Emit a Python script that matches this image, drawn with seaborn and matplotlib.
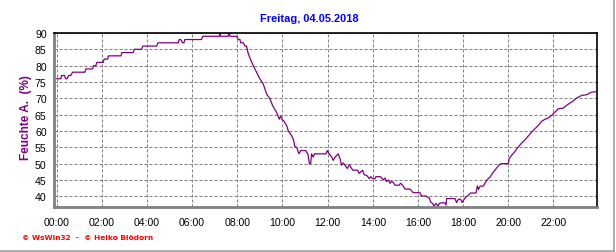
import matplotlib
matplotlib.use("Agg")
import matplotlib.pyplot as plt
import seaborn as sns
import pandas as pd
from matplotlib.ticker import MultipleLocator, FixedLocator
from matplotlib.lines import Line2D

# ---- data (hours of day, relative humidity %) ----
hours = [0.00, 0.19, 0.23, 0.35, 0.40, 0.47, 0.53, 0.63, 0.71, 1.25, 1.30, 1.59, 1.64, 1.74,
         1.78, 2.06, 2.11, 2.26, 2.30, 2.85, 2.89, 3.39, 3.44, 3.76, 3.82, 4.43, 4.49, 5.39,
         5.43, 5.50, 5.58, 5.64, 5.68, 6.42, 6.47, 7.20, 7.23, 7.25, 7.60, 7.64, 7.68, 7.97,
         8.04, 8.12, 8.15, 8.27, 8.34, 8.41, 8.49, 8.64, 8.78, 9.00, 9.15, 9.30, 9.45, 9.57,
         9.74, 9.86, 9.92, 9.99, 10.07, 10.19, 10.26, 10.41, 10.48, 10.55, 10.63, 10.73, 10.81,
         11.04, 11.14, 11.19, 11.25, 11.29, 11.36, 11.42, 11.51, 11.93, 11.98, 12.07, 12.18,
         12.25, 12.33, 12.47, 12.55, 12.62, 12.69, 12.77, 12.87, 12.96, 13.02, 13.11, 13.33,
         13.40, 13.55, 13.62, 13.73, 13.85, 13.92, 13.99, 14.10, 14.14, 14.35, 14.46, 14.54,
         14.61, 14.69, 14.76, 14.84, 14.91, 14.98, 15.17, 15.23, 15.32, 15.43, 15.65, 15.79,
         16.09, 16.16, 16.36, 16.41, 16.50, 16.56, 16.65, 16.71, 16.80, 16.90, 16.94, 17.05,
         17.19, 17.24, 17.27, 17.64, 17.71, 17.79, 17.89, 17.96, 18.04, 18.13, 18.23, 18.33,
         18.57, 18.63, 18.68, 18.75, 18.89, 19.04, 19.19, 19.34, 19.49, 19.60, 19.71, 20.00,
         20.04, 20.15, 20.30, 20.44, 20.59, 20.74, 20.89, 21.04, 21.18, 21.33, 21.48, 21.63,
         21.77, 21.92, 22.07, 22.21, 22.44, 22.59, 22.81, 23.03, 23.25, 23.47, 23.69, 23.87]
humidity = [76, 76, 77, 77, 76, 76, 77, 77, 78, 78, 79, 79, 80, 80,
            81, 81, 82, 82, 83, 83, 84, 84, 85, 85, 86, 86, 87, 87,
            88, 88, 87, 87, 88, 88, 89, 89, 90, 89, 89, 90, 89, 89,
            88, 88, 87, 87, 86, 86, 83.6, 81, 79, 76, 74.4, 71.3, 69.8, 67.7,
            65.7, 63.6, 64.5, 63.5, 63, 61.6, 60, 58.5, 57.5, 55.2, 55, 53, 54,
            54, 52.6, 50, 50, 53, 52, 53, 53, 53, 54, 53, 52,
            51, 52, 53, 51.5, 49.5, 50.2, 49.5, 48.5, 49.7, 49, 48, 48,
            47, 48, 46.6, 46.4, 45.4, 46, 45.4, 45.4, 46, 46, 45, 45.6,
            44.5, 45, 44, 44.6, 44.2, 43.4, 43.4, 44, 43.4, 42.2, 42.2, 41.1,
            41.1, 40.1, 40.1, 39.8, 39.5, 38.3, 37.8, 37.0, 37.8, 37.0, 37.8, 38,
            38, 37.3, 39.3, 39.3, 38.1, 39.1, 39.1, 38.1, 39, 39.8, 40.3, 41,
            41, 43.2, 42.1, 43.1, 43.1, 44.9, 45.9, 47.4, 48.7, 49.7, 50, 50,
            51.5, 52.6, 53.8, 55.1, 56.3, 57.3, 58.5, 59.7, 60.7, 61.7, 63, 63.6,
            64, 64.8, 65.8, 66.8, 67, 67.9, 68.9, 70.1, 70.9, 71.1, 71.9, 72]
x_ticks = [0, 2, 4, 6, 8, 10, 12, 14, 16, 18, 20, 22]
x_labels = ["00:00", "02:00", "04:00", "06:00", "08:00", "10:00",
            "12:00", "14:00", "16:00", "18:00", "20:00", "22:00"]
y_ticks = [40, 45, 50, 55, 60, 65, 70, 75, 80, 85, 90]
title = "Freitag, 04.05.2018"
ylabel = "Feuchte A.  (%)"
footer = "\u00a9 WsWin32  -  \u00a9 Heiko Blödorn"

df = pd.DataFrame({"h": hours, "v": humidity})

sns.set_style("white")
plt.rcParams["font.family"] = ["Liberation Sans", "DejaVu Sans"]

fig = plt.figure(figsize=(6.16, 2.53), dpi=100)
ax = fig.add_axes([54.3 / 616, 1 - 208.3 / 253, (597.3 - 54.3) / 616, (208.3 - 34) / 253])

sns.lineplot(data=df, x="h", y="v", ax=ax, color="#800080", linewidth=0.9,
             estimator=None, sort=False)

ax.set_xlim(-0.1, 23.94)
ax.set_ylim(36.63, 90)

ax.xaxis.set_major_locator(FixedLocator(x_ticks))
ax.set_xticklabels(x_labels)
ax.xaxis.set_minor_locator(MultipleLocator(0.5))
ax.yaxis.set_major_locator(FixedLocator(y_ticks))
ax.set_yticklabels([str(t) for t in y_ticks])
ax.yaxis.set_minor_locator(MultipleLocator(1))

ax.grid(True, which="major", color="#808080", linewidth=0.75, linestyle=(0, (2.9, 1.9)))
ax.set_axisbelow(True)

for side in ["left", "bottom"]:
    ax.spines[side].set_color("#808080")
    ax.spines[side].set_linewidth(2.0)
for side in ["top", "right"]:
    ax.spines[side].set_color("black")
    ax.spines[side].set_linewidth(1.2)

ax.tick_params(axis="x", which="major", direction="out", length=4, width=1.4,
               color="#808080", labelsize=7.6, pad=3, labelcolor="black")
ax.tick_params(axis="x", which="minor", direction="out", length=2.5, width=1.4,
               color="#808080")
ax.tick_params(axis="y", which="major", direction="out", length=3.5, width=1.4,
               color="#808080", labelsize=7.6, pad=2, labelcolor="black")
ax.tick_params(axis="y", which="minor", direction="out", length=1.5, width=1.0,
               color="#808080")
ax.set_xlabel("")
ax.set_ylabel("")

fig.text(309.5 / 616, 1 - 18.5 / 253, title, color="#0000FF", fontsize=7.9,
         fontweight="bold", ha="center", va="center")
fig.text(26.5 / 616, 1 - 117.5 / 253, ylabel, color="#800080", fontsize=8.5,
         fontweight="bold", ha="center", va="center", rotation=90)
fig.text(22 / 616, 1 - 238.5 / 253, footer, color="#FF0000", fontsize=5.3,
         fontweight="bold", ha="left", va="center", family=["DejaVu Sans"])

# outer frame lines (bottom and right)
fig.add_artist(Line2D([0, 614 / 616], [1 - 252 / 253, 1 - 252 / 253],
                      transform=fig.transFigure, color="#a0a0a0", linewidth=1.2))
fig.add_artist(Line2D([614 / 616, 614 / 616], [1 - 252 / 253, 1.0],
                      transform=fig.transFigure, color="#a0a0a0", linewidth=1.2))

fig.savefig("out.png", dpi=100)
